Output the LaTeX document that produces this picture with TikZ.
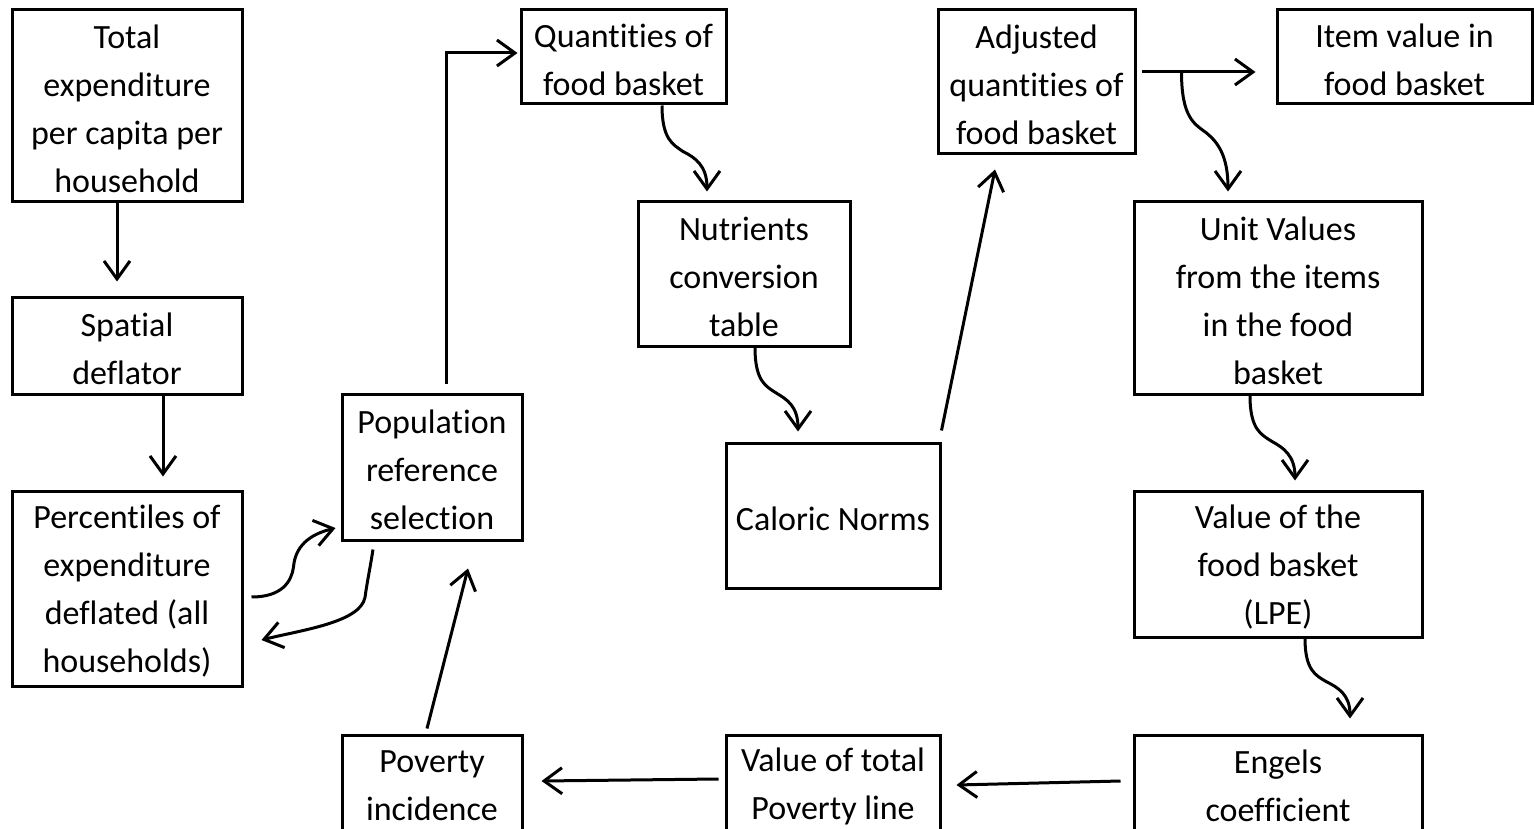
\documentclass[tikz,border=0pt]{standalone}
\usepackage{fontspec}
\setmainfont{Carlito}[Ligatures=NoCommon]
\usetikzlibrary{arrows.meta,calc}
\begin{document}
\begin{tikzpicture}[x=1pt,y=-1pt,
  box/.style={draw,line width=3pt,inner sep=0pt},
  txt/.style={align=center,inner sep=0pt,yshift=-3pt,
    font=\fontsize{34}{48}\selectfont},
  txtlow/.style={txt,yshift=2pt},
  conn/.style={line width=3pt,-{Straight Barb[length=18pt,width=26pt]}}]
\useasboundingbox (0,0) rectangle (1534,829);
\clip (0,0) rectangle (1534,829);
\fill[white] (0,0) rectangle (1534,829);
% boxes
\node[box,minimum width=230pt,minimum height=192pt,label={[txt]center:{Total\\expenditure\\per capita per\\household}}] (b1) at (127,106) {};
\node[box,minimum width=230pt,minimum height=97pt,label={[txt]center:{Spatial\\deflator}}] (b2) at (127,345.5) {};
\node[box,minimum width=230pt,minimum height=195pt,label={[txt]center:{Percentiles of\\expenditure\\deflated (all\\households)}}] (b3) at (127,588.5) {};
\node[box,minimum width=180pt,minimum height=146pt,label={[txt]center:{Population\\reference\\selection}}] (b4) at (432,467) {};
\node[box,minimum width=180pt,minimum height=100pt,label={[txtlow]center:{Poverty\\incidence}}] (b5) at (432,785) {};
\node[box,minimum width=205pt,minimum height=94pt,label={[txt]center:{Quantities of\\food basket}}] (b6) at (623.5,57) {};
\node[box,minimum width=212pt,minimum height=144pt,label={[txt]center:{Nutrients\\conversion\\table}}] (b7) at (744,274) {};
\node[box,minimum width=214pt,minimum height=145pt,label={[txt]center:{Caloric Norms}}] (b8) at (833,515.5) {};
\node[box,minimum width=214pt,minimum height=100pt,label={[txtlow]center:{Value of total\\Poverty line}}] (b9) at (833,785) {};
\node[box,minimum width=197pt,minimum height=144pt,label={[txt]center:{Adjusted\\quantities of\\food basket}}] (b10) at (1036.5,82) {};
\node[box,minimum width=255pt,minimum height=94pt,label={[txt]center:{Item value in\\food basket}}] (b11) at (1404.5,57) {};
\node[box,minimum width=288pt,minimum height=192pt,label={[txt]center:{Unit Values\\from the items\\in the food\\basket}}] (b12) at (1278,298) {};
\node[box,minimum width=288pt,minimum height=146pt,label={[txt]center:{Value of the\\food basket\\(LPE)}}] (b13) at (1278,564) {};
\node[box,minimum width=288pt,minimum height=100pt,label={[txtlow]center:{Engels\\coefficient}}] (b14) at (1278,785) {};
% straight connectors
\draw[conn] ([xshift=-10pt]b1.south) -- ([xshift=-10pt,yshift=14pt]b2.north);
\draw[conn] ([xshift=36pt]b2.south) -- ([xshift=36pt,yshift=13pt]b3.north);
\draw[conn] ([xshift=14pt,yshift=9pt]b4.north) |- ([xshift=-2pt,yshift=4pt]b6.west);
\draw[conn] ([xshift=-5pt,yshift=5pt]b5.north) -- ([xshift=36pt,yshift=-27pt]b4.south);
\draw[conn] ([yshift=11pt]b8.north east) -- ([xshift=-41.5pt,yshift=-14pt]b10.south);
\draw[conn] ([xshift=5pt,yshift=10pt]b10.east) -- ([xshift=-20pt,yshift=-15pt]b11.west);
\draw[conn] ([xshift=-12pt,yshift=4pt]b14.west) -- ([xshift=15pt]b9.east);
\draw[conn] ([xshift=-6pt,yshift=6pt]b9.west) -- ([xshift=18pt,yshift=4pt]b5.east);
\coordinate (split) at ([xshift=45pt,yshift=10pt]b10.east);
% curved connectors
\draw[conn] ([xshift=8pt,yshift=-8.5pt]b3.east) .. controls +(30,0) and +(-2,15) .. ++(42,-30)
  .. controls +(2,-25) and +(-20,5) .. ([xshift=-5pt,yshift=-61pt]b4.west);
\draw[conn] ([xshift=-59pt,yshift=-8pt]b4.south) .. controls +(-4,25) and +(2,-15) .. ++(-8,48)
  .. controls +(-5,25) and +(40,-10) .. ([xshift=18pt,yshift=-51.5pt]b3.east);
\draw[conn] ([xshift=38.5pt]b6.south) .. controls +(0,34) and +(-10,-7) .. ++(21,46)
  .. controls +(12,6) and +(0,-26) .. ([xshift=-37pt,yshift=9pt]b7.north);
\draw[conn] ([xshift=11pt]b7.south) .. controls +(0,34) and +(-11,-7) .. ++(22,46)
  .. controls +(10,6) and +(0,-25) .. ([xshift=-35pt,yshift=10pt]b8.north);
\draw[conn] (split) .. controls +(0,46) and +(-12,-9) .. ++(25,61)
  .. controls +(11,9) and +(0,-36) .. ([xshift=-50pt,yshift=9pt]b12.north);
\draw[conn] ([xshift=-28pt]b12.south) .. controls +(0,34) and +(-11,-7) .. ++(22,46)
  .. controls +(11,6) and +(0,-25) .. ([xshift=17pt,yshift=9pt]b13.north);
\draw[conn] ([xshift=27pt]b13.south) .. controls +(0,32) and +(-10,-6) .. ++(21,43)
  .. controls +(12,6) and +(0,-24) .. ([xshift=72pt,yshift=15pt]b14.north);
\end{tikzpicture}
\end{document}
